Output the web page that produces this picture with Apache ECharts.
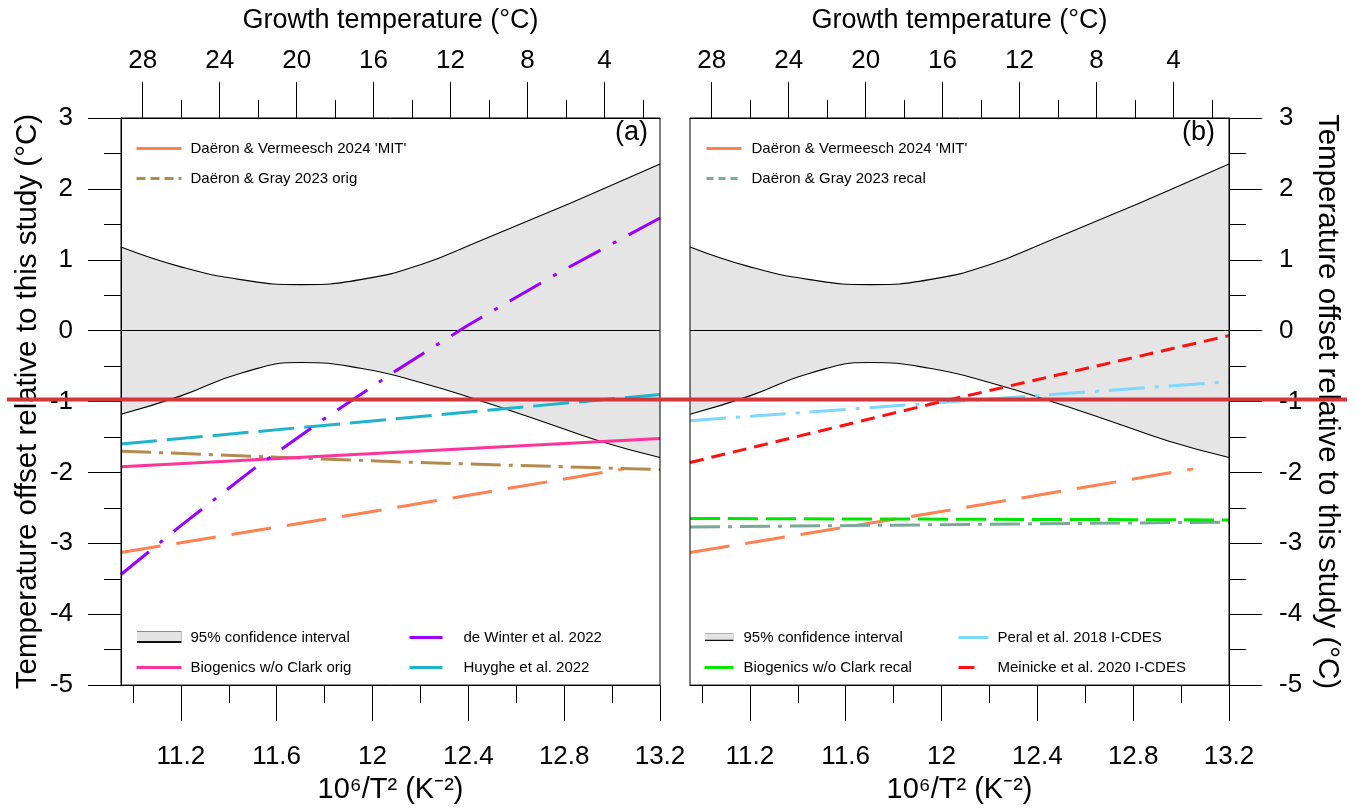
<!DOCTYPE html>
<html><head><meta charset="utf-8">
<script src="https://cdn.jsdelivr.net/npm/echarts@6/dist/echarts.min.js"></script>
<style>html,body{margin:0;padding:0;background:#fff}#c{width:1359px;height:809px}</style>
</head><body><div id="c"></div>
<script>
// ---------- data ----------
const ciX   = [10.95, 11.2, 11.45, 11.7, 11.95, 12.2, 12.45, 12.7, 12.95, 13.2];
const ciUp  = [1.18, 0.90, 0.72, 0.65, 0.72, 0.93, 1.27, 1.62, 1.98, 2.35];
const ciLo  = [-1.18, -0.92, -0.60, -0.45, -0.53, -0.73, -0.99, -1.27, -1.56, -1.79];

const dv2024X = [10.95, 12.0, 13.05];
const dv2024Y = [-3.13, -2.55, -1.95];
const dgOrigX = [10.95, 12.1, 13.2];
const dgOrigY = [-1.70, -1.85, -1.96];
const winterX = [10.95, 11.2, 11.5, 11.8, 12.1, 12.4, 12.8, 13.2];
const winterY = [-3.44, -2.75, -1.96, -1.24, -0.56, 0.08, 0.86, 1.59];
const bioOrigX = [10.95, 13.2];
const bioOrigY = [-1.92, -1.52];
const huygheX = [10.95, 13.2];
const huygheY = [-1.60, -0.90];

const dgRecalX = [10.95, 13.2];
const dgRecalY = [-2.77, -2.70];
const bioRecalX = [10.95, 13.2];
const bioRecalY = [-2.65, -2.67];
const peralX = [10.95, 13.2];
const peralY = [-1.27, -0.72];
const meinickeX = [10.95, 12.0, 13.2];
const meinickeY = [-1.86, -1.00, -0.07];

const xMajorTicks = [11.2, 11.6, 12, 12.4, 12.8, 13.2];
const xMinorTicks = [11.0, 11.4, 11.8, 12.2, 12.6, 13.0];
const tMajorTicks = [4, 8, 12, 16, 20, 24, 28];
const tMinorTicks = [2, 6, 10, 14, 18, 22, 26];
const xRange = [10.95, 13.2];
const tRange = [1.11, 29.13];
const yRange = [-5, 3];

// ---------- helpers ----------
const zip = (xs, ys) => xs.map((x, i) => [x, ys[i]]);
const FONT = "'Liberation Sans', Arial, sans-serif";
const NAMES = {
  ci: '95% confidence interval',
  dv: "Daëron & Vermeesch 2024 'MIT'",
  dgo: 'Daëron & Gray 2023 orig',
  dgr: 'Daëron & Gray 2023 recal',
  win: 'de Winter et al. 2022',
  bio: 'Biogenics w/o Clark orig',
  bior: 'Biogenics w/o Clark recal',
  huy: 'Huyghe et al. 2022',
  per: 'Peral et al. 2018 I-CDES',
  mei: 'Meinicke et al. 2020 I-CDES'
};
const COL = {
  dv: '#ff8050', dgo: '#b38b4f', dgr: '#7aa89a', win: '#9b00ff', bio: '#ff3399',
  bior: '#00e600', huy: '#1fb4cc', per: '#7fd6ff', mei: '#ff1010'
};
const ciIcon = 'image://data:image/svg+xml;utf8,' + encodeURIComponent(
  '<svg xmlns="http://www.w3.org/2000/svg" width="45" height="14"><rect x="0" y="1" width="45" height="11" fill="#e3e3e3" stroke="#888" stroke-width="1"/><line x1="0" y1="11.5" x2="45" y2="11.5" stroke="#111" stroke-width="2"/></svg>');

const BLACK = { color: '#000', width: 1 };
const TICKFONT = { fontSize: 26, color: '#000', fontFamily: FONT };
function xAxes(g) {
  const base = { gridIndex: g, type: 'value', splitLine: { show: false }, z: 8 };
  return [
    Object.assign({}, base, {
      position: 'bottom', min: xRange[0], max: xRange[1],
      axisLine: { show: true, onZero: false, lineStyle: BLACK },
      axisTick: { show: true, customValues: xMajorTicks, length: 36, lineStyle: BLACK },
      axisLabel: Object.assign({ customValues: xMajorTicks, margin: 59 }, TICKFONT),
      name: '10⁶/T² (K⁻²)', nameLocation: 'middle', nameGap: 85,
      nameTextStyle: { fontSize: 29, color: '#000', fontFamily: FONT }
    }),
    Object.assign({}, base, {
      position: 'bottom', min: xRange[0], max: xRange[1],
      axisLine: { show: false, onZero: false },
      axisTick: { show: true, customValues: xMinorTicks, length: 18, lineStyle: BLACK },
      axisLabel: { show: false }
    }),
    Object.assign({}, base, {
      position: 'top', min: tRange[0], max: tRange[1], inverse: true,
      axisLine: { show: true, onZero: false, lineStyle: BLACK },
      axisTick: { show: true, customValues: tMajorTicks, length: 36, lineStyle: BLACK },
      axisLabel: Object.assign({ customValues: tMajorTicks, margin: 44 }, TICKFONT),
      name: 'Growth temperature (°C)', nameLocation: 'middle', nameGap: 84,
      nameTextStyle: { fontSize: 27, color: '#000', fontFamily: FONT }
    }),
    Object.assign({}, base, {
      position: 'top', min: tRange[0], max: tRange[1], inverse: true,
      axisLine: { show: false, onZero: false },
      axisTick: { show: true, customValues: tMinorTicks, length: 18, lineStyle: BLACK },
      axisLabel: { show: false }
    })
  ];
}
function yAxis(g, pos) {
  return {
    gridIndex: g, type: 'value', position: pos, min: yRange[0], max: yRange[1], interval: 1, z: 8,
    splitLine: { show: false },
    axisLine: { show: true, onZero: false, lineStyle: BLACK },
    axisTick: { show: true, length: 33, lineStyle: BLACK },
    minorTick: { show: true, splitNumber: 2, length: 17, lineStyle: BLACK },
    axisLabel: Object.assign({ margin: pos === 'left' ? 48 : 50 }, TICKFONT),
    name: 'Temperature offset relative to this study (°C)', nameLocation: 'middle',
    nameGap: pos === 'left' ? 78 : 83, nameRotate: pos === 'left' ? 90 : -90,
    nameTextStyle: { fontSize: 29.5, color: '#000', fontFamily: FONT }
  };
}
// band: grey area from upper curve down, then white area from lower curve down
function band(g) {
  const xi = g * 4, yi = g;
  return [
    { type: 'line', name: NAMES.ci, xAxisIndex: xi, yAxisIndex: yi, data: zip(ciX, ciUp),
      smooth: true, symbol: 'none', silent: true, z: 1,
      itemStyle: { color: '#e5e5e5' },
      lineStyle: { color: '#000', width: 1.1 },
      areaStyle: { color: '#e5e5e5', opacity: 1, origin: 'start' } },
    { type: 'line', name: 'ci_lo_' + g, xAxisIndex: xi, yAxisIndex: yi, data: zip(ciX, ciLo),
      smooth: true, symbol: 'none', silent: true, z: 2,
      itemStyle: { color: '#fff' },
      lineStyle: { color: '#000', width: 1.1 },
      areaStyle: { color: '#fff', opacity: 1, origin: 'start' },
      markLine: { silent: true, symbol: 'none', label: { show: false },
        lineStyle: { color: '#000', width: 1.1, type: 'solid' }, data: [{ yAxis: 0 }] } }
  ];
}
function ln(g, name, xs, ys, color, type) {
  return { type: 'line', name, xAxisIndex: g * 4, yAxisIndex: g, data: zip(xs, ys),
    symbol: 'none', smooth: false, z: 5, itemStyle: { color },
    lineStyle: { color, width: 3, type } };
}
function legend(left, top, names, itemWidth, gap) {
  return { left, top, orient: 'vertical', itemWidth, itemHeight: 14, itemGap: 15,
    selectedMode: false, data: names, itemStyle: { opacity: 0 },
    lineStyle: { width: 3, type: 'solid' },
    textStyle: { fontSize: 15, color: '#000', fontFamily: FONT, padding: [0, 0, 0, gap] } };
}
const ciLegend = { name: NAMES.ci, icon: ciIcon, itemStyle: { opacity: 1 } };
const dgoLegend = { name: NAMES.dgo, lineStyle: { width: 3, type: [9, 5] } };
const dgrLegend = { name: NAMES.dgr, lineStyle: { width: 3, type: [7, 5] } };
const meiLegend = { name: NAMES.mei, lineStyle: { width: 3, type: [16, 40] } };

const series = [].concat(
  band(0),
  ln(0, NAMES.dv, dv2024X, dv2024Y, COL.dv, [40, 16]),
  ln(0, NAMES.dgo, dgOrigX, dgOrigY, COL.dgo, [30, 8, 4, 8]),
  ln(0, NAMES.bio, bioOrigX, bioOrigY, COL.bio, 'solid'),
  ln(0, NAMES.huy, huygheX, huygheY, COL.huy, [36, 10]),
  ln(0, NAMES.win, winterX, winterY, COL.win, [36, 14, 4, 14]),
  band(1),
  ln(1, NAMES.dv, dv2024X, dv2024Y, COL.dv, [40, 16]),
  ln(1, NAMES.dgr, dgRecalX, dgRecalY, COL.dgr, [30, 8, 4, 8]),
  ln(1, NAMES.bior, bioRecalX, bioRecalY, COL.bior, [30, 8]),
  ln(1, NAMES.per, peralX, peralY, COL.per, [36, 10, 4, 10]),
  ln(1, NAMES.mei, meinickeX, meinickeY, COL.mei, [14, 8])
);

const chart = echarts.init(document.getElementById('c'), null, { renderer: 'canvas' });
chart.setOption({
  animation: false,
  backgroundColor: '#fff',
  grid: [
    { left: 121, top: 118, width: 539, height: 568, show: true, z: 8, borderColor: '#000', borderWidth: 1, containLabel: false },
    { left: 690, top: 118, width: 539, height: 568, show: true, z: 8, borderColor: '#000', borderWidth: 1, containLabel: false }
  ],
  xAxis: [].concat(xAxes(0), xAxes(1)),
  yAxis: [yAxis(0, 'left'), yAxis(1, 'right')],
  title: [
    { text: '(a)', left: 610, top: 114, textStyle: { fontSize: 27, fontWeight: 'normal', color: '#000', fontFamily: FONT } },
    { text: '(b)', left: 1177, top: 114, textStyle: { fontSize: 27, fontWeight: 'normal', color: '#000', fontFamily: FONT } }
  ],
  legend: [
    legend(130, 136, [NAMES.dv, dgoLegend], 45, 4),
    legend(130, 625, [ciLegend, NAMES.bio], 45, 4),
    legend(403, 625, [NAMES.win, NAMES.huy], 33, 16),
    legend(700, 136, [NAMES.dv, dgrLegend], 35, 5),
    legend(698, 625, [ciLegend, NAMES.bior], 29, 5),
    legend(952, 625, [NAMES.per, meiLegend], 30, 4)
  ],
  graphic: [
    { type: 'line', shape: { x1: 7, y1: 399.5, x2: 1347, y2: 399.5 }, style: { stroke: '#d0363c', lineWidth: 4 }, z: 100 }
  ],
  series
});
</script>
</body></html>
